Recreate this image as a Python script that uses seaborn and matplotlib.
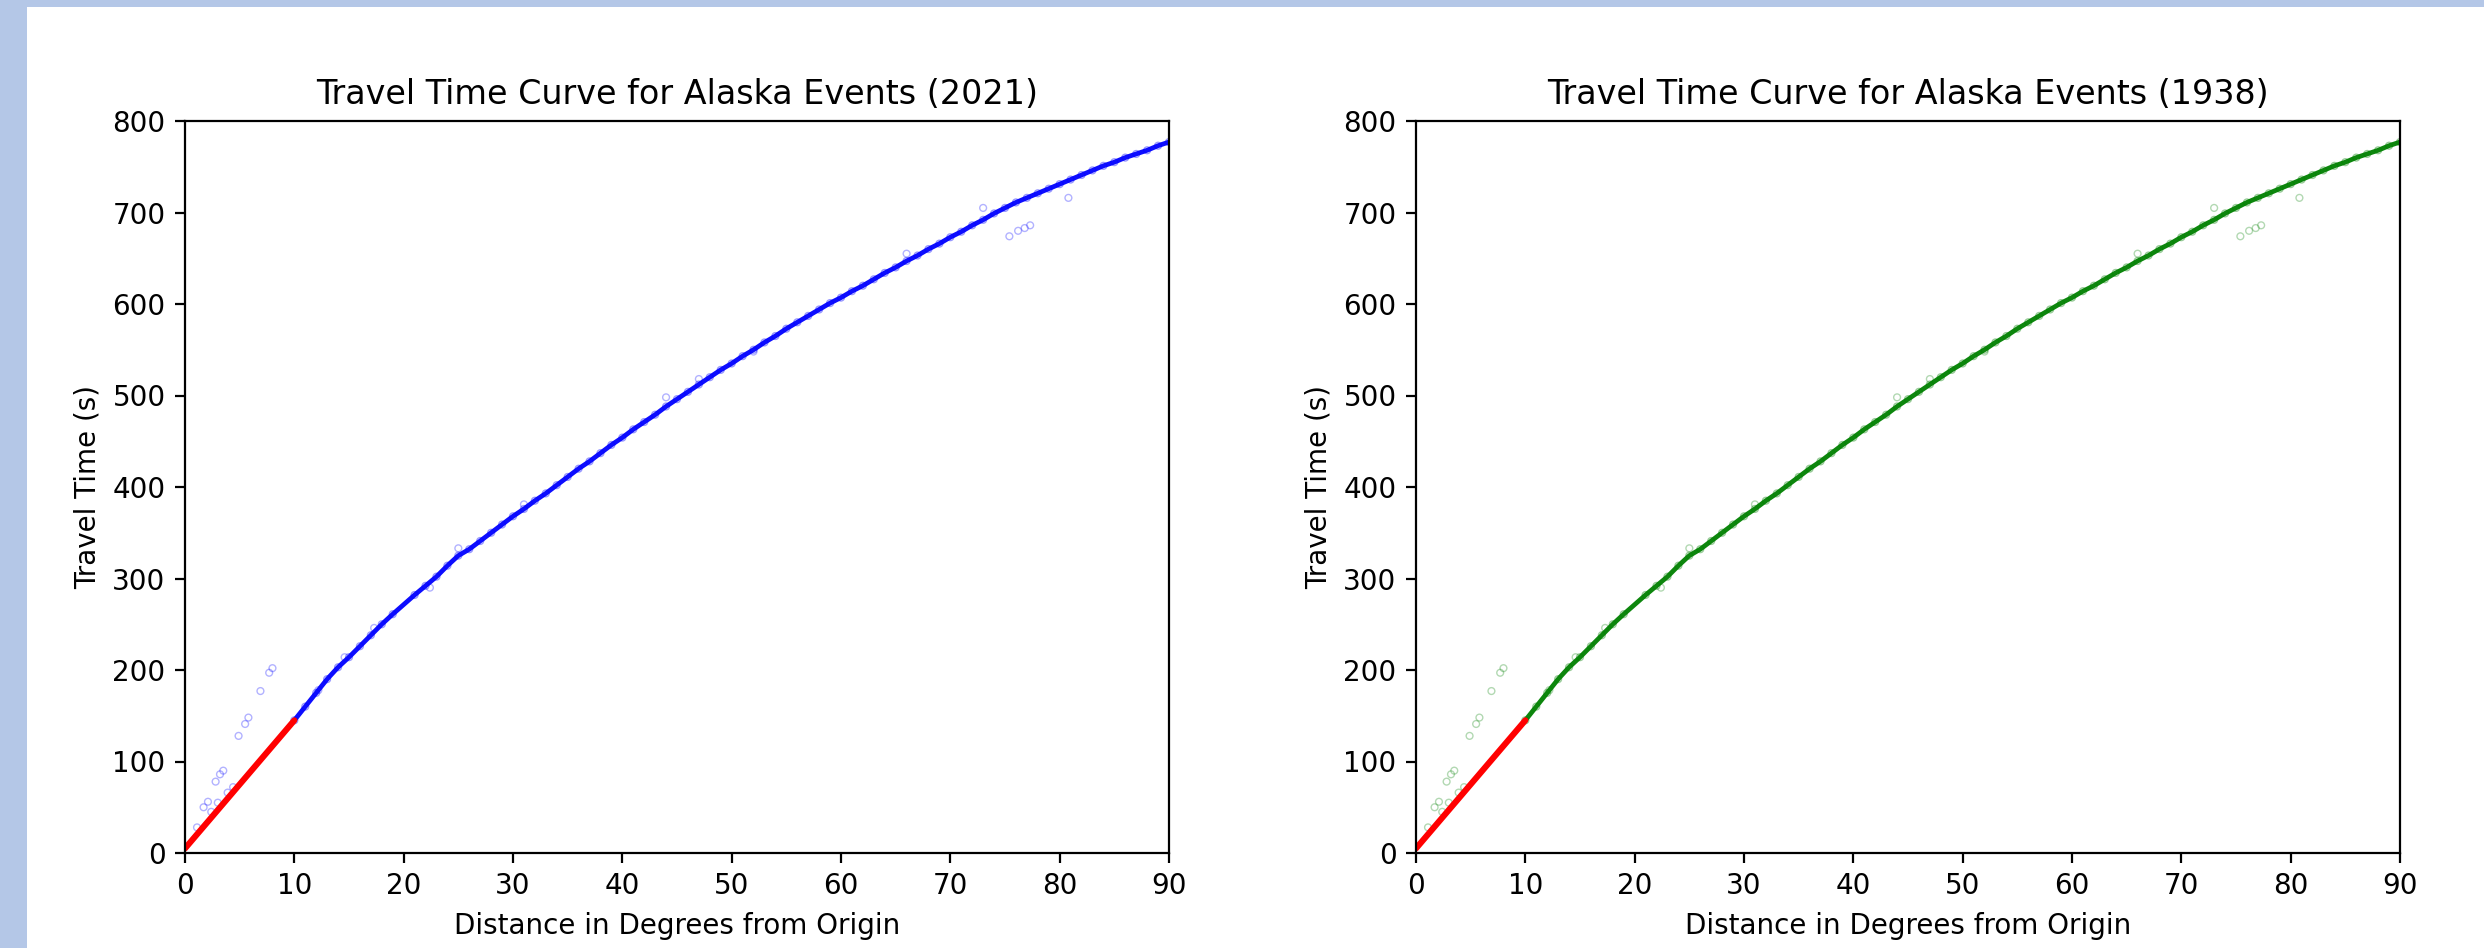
import numpy as np
import pandas as pd
import seaborn as sns
import matplotlib.pyplot as plt
from matplotlib.patches import Rectangle

# main travel time branch (distance in deg, time in s)
dist = [10, 11, 12, 13, 14, 15, 16, 17, 18, 19, 21, 22, 23, 24, 25, 26, 27, 28, 29, 30,
        31, 32, 33, 34, 35, 36, 37, 38, 39, 40, 41, 42, 43, 44, 45, 46, 47, 48, 49, 50,
        51, 52, 53, 54, 55, 56, 57, 58, 59, 60, 61, 62, 63, 64, 65, 66, 67, 68, 69, 70,
        71, 72, 73, 74, 75, 76, 77, 78, 79, 80, 81, 82, 83, 84, 85, 86, 87, 88, 89, 90]
ttime = [145, 160, 175, 190, 203, 214, 226, 238, 250, 261, 282, 292, 302, 314, 325, 332, 341, 350, 359, 368,
         376, 385, 393, 402, 411, 420, 428, 437, 446, 454, 463, 471, 479, 488, 496, 504, 512, 520, 528, 535,
         543, 550, 558, 565, 573, 580, 587, 594, 601, 607, 614, 620, 627, 634, 640, 647, 653, 660, 666, 673,
         679, 686, 692, 699, 705, 711, 716, 721, 726, 731, 736, 741, 746, 751, 755, 760, 764, 768, 773, 777]

# scattered picks away from the main branch
out_dist = [1.1, 1.7, 2.1, 2.8, 3.2, 3.5, 4.9, 5.5, 5.8, 6.9, 7.7, 8.0,
            75.4, 76.2, 76.8, 77.3, 80.8, 73.0, 66.0, 52.0, 44.0, 25.0,
            2.4, 3.0, 3.9, 4.4, 12.2, 14.6, 17.3, 22.4, 31.0, 47.0]
out_time = [28, 50, 56, 78, 86, 90, 128, 141, 148, 177, 197, 202,
            674, 680, 683, 686, 716, 705, 655, 548, 498, 333,
            45, 55, 66, 72, 178, 214, 246, 290, 381, 518]

# near-field picks (red)
near_dist = [0, 1, 2, 3, 4, 5, 6, 7, 8, 9, 10]
near_time = [5, 19, 33, 47, 61, 75, 89, 103, 117, 131, 145]

years = ["2021", "1938"]
colors = ["blue", "green"]

sns.set_theme(style="ticks", rc={
    "axes.edgecolor": "black", "text.color": "black", "axes.labelcolor": "black",
    "xtick.color": "black", "ytick.color": "black",
    "font.size": 10, "axes.titlesize": 12, "axes.labelsize": 10,
    "xtick.labelsize": 10, "ytick.labelsize": 10,
    "axes.linewidth": 0.8, "xtick.major.width": 0.8, "ytick.major.width": 0.8,
    "xtick.major.size": 3.5, "ytick.major.size": 3.5,
})
plt.rcParams["font.family"] = ["DejaVu Sans"]

main = pd.DataFrame({"dist": dist, "time": ttime})
outl = pd.DataFrame({"dist": out_dist, "time": out_time})
near = pd.DataFrame({"dist": near_dist, "time": near_time})

fig = plt.figure(figsize=(12.42, 4.74), dpi=200, facecolor="#b4c7e7")
# white page area (screenshot margin stays light blue on the top and left)
fig.patches.append(Rectangle((27 / 2484, 0), 1, 1 - 7 / 948, transform=fig.transFigure,
                             facecolor="white", edgecolor="none", zorder=-10))

lefts = [185 / 2484, 1416 / 2484]
for left, year, col in zip(lefts, years, colors):
    ax = fig.add_axes([left, 1 - 853 / 948, 984 / 2484, 732 / 948])
    sns.lineplot(data=main, x="dist", y="time", ax=ax, color=col, lw=1.7, alpha=0.95)
    sns.scatterplot(data=main, x="dist", y="time", ax=ax, marker="o", s=6,
                    facecolor="none", edgecolor=col, linewidth=0.5, alpha=0.4)
    sns.scatterplot(data=outl, x="dist", y="time", ax=ax, marker="o", s=6,
                    facecolor="none", edgecolor=col, linewidth=0.5, alpha=0.3)
    sns.lineplot(data=near, x="dist", y="time", ax=ax, color="red", lw=2.2)
    ax.set_xlim(0, 90)
    ax.set_ylim(0, 800)
    ax.set_title(f"Travel Time Curve for Alaska Events ({year})")
    ax.set_xlabel("Distance in Degrees from Origin")
    ax.set_ylabel("Travel Time (s)")

fig.savefig("out.png", dpi=200, facecolor=fig.get_facecolor())
